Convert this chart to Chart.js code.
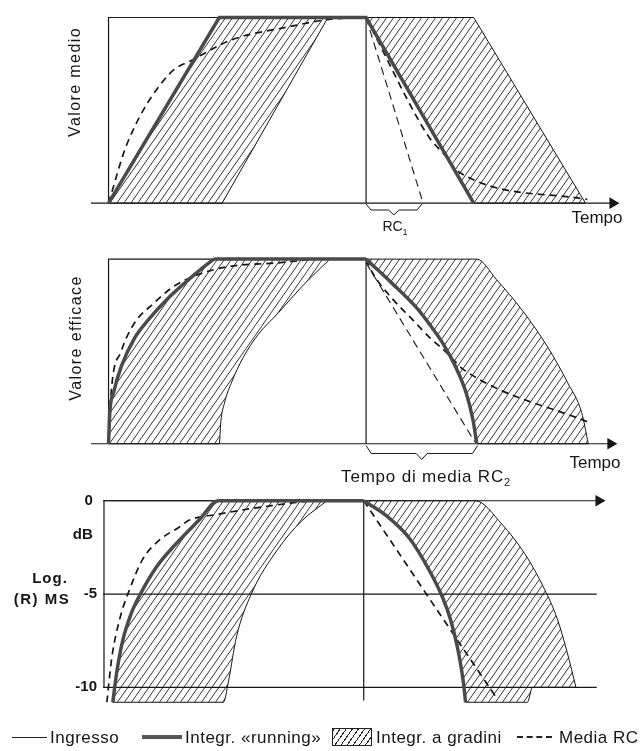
<!DOCTYPE html>
<html>
<head>
<meta charset="utf-8">
<script src="https://cdn.jsdelivr.net/npm/chart.js@4.4.1/dist/chart.umd.min.js"></script>
<style>
html, body { margin: 0; padding: 0; background: #fff; }
body { width: 644px; height: 751px; position: relative; overflow: hidden;
       font-family: "Liberation Sans", Arial, sans-serif; color: #161616; }
canvas { position: absolute; left: 0; top: 0; }
.t { position: absolute; white-space: nowrap; line-height: 1; transform: translate(-50%, -50%); }
.v { transform: translate(-50%, -50%) rotate(-90deg); font-size: 16px; letter-spacing: 1.4px; }
.l { position: absolute; white-space: nowrap; line-height: 1; transform: translateY(-50%);
     font-size: 17px; letter-spacing: 0.5px; top: 737px; }
.b { font-weight: bold; font-size: 15px; }
</style>
</head>
<body>
<canvas id="grafico1" width="644" height="751"></canvas>
<canvas id="grafico2" width="644" height="751"></canvas>
<canvas id="grafico3" width="644" height="751"></canvas>

<div class="t v" style="left:75px; top:82px;">Valore medio</div>
<div class="t v" style="left:76px; top:338px;">Valore efficace</div>
<div class="t" style="left:597px; top:217px; font-size:17px;">Tempo</div>
<div class="t" style="left:395px; top:228px; font-size:14px;">RC<sub style="font-size:9px">1</sub></div>
<div class="t" style="left:595px; top:462px; font-size:17px;">Tempo</div>
<div class="t" style="left:426px; top:478px; font-size:17px; letter-spacing:0.8px;">Tempo di media RC<sub style="font-size:11px">2</sub></div>
<div class="t b" style="left:50px; top:577px; letter-spacing:1px;">Log.</div>
<div class="t b" style="left:42px; top:598px; letter-spacing:1.5px;">(R) MS</div>

<div style="position:absolute; left:12px; top:737px; width:35px; height:1px; background:#222;"></div>
<div class="l" style="left:50px;">Ingresso</div>
<div style="position:absolute; left:142px; top:735px; width:40px; height:4px; background:#555;"></div>
<div class="l" style="left:185px;">Integr. «running»</div>
<div style="position:absolute; left:332px; top:728px; width:38px; height:16px; border:1px solid #222;
  background: repeating-linear-gradient(-55deg, #fff 0 4px, #222 4px 5px);"></div>
<div class="l" style="left:376px;">Integr. a gradini</div>
<div style="position:absolute; left:517px; top:736px; width:35px; height:0; border-top:2px dashed #222;"></div>
<div class="l" style="left:559px;">Media RC</div>

<script>
// tempo in unita' (0 = inizio impulso, 10 = fine impulso), valori normalizzati o dB

// Valore medio
var p1Ingresso = [[0, 0], [0, 1], [10, 1], [10, 0]];
var p1Asse = [[-0.68, 0], [19.58, 0]];
var p1Running = [[0, 0], [4.30, 1], [10, 1], [14.18, 0]];
var p1GradSxSopra = [[0, 0], [4.30, 1], [8.52, 1]];
var p1GradSxSotto = [[0, 0], [4.41, 0], [8.52, 1]];
var p1GradDxSopra = [[10, 1], [14.18, 1], [18.52, 0]];
var p1GradDxSotto = [[10, 1], [14.18, 0], [18.52, 0]];
var p1Tangente = [[10, 1], [12.17, 0.02]];
var p1RcSale = [[0, 0], [0.72, 0.32], [2.32, 0.69], [3.38, 0.78], [4.79, 0.88], [7.0, 0.95], [8.56, 0.99], [10, 1]];
var p1RcScende = [[10, 1], [10.76, 0.79], [11.71, 0.53], [12.47, 0.35], [13.12, 0.25], [13.57, 0.17], [18.59, 0.02]];
var p1Graffa = [[10, -0.005], [10.19, -0.037], [10.87, -0.037], [11.08, -0.063], [11.29, -0.037], [11.98, -0.037], [12.17, -0.005]];

// Valore efficace
var p2Ingresso = [[0, 0], [0, 1], [10, 1], [10, 0]];
var p2Asse = [[-0.68, 0], [19.5, 0]];
var p2RunSale = [[0, 0], [0.05, 0.17], [0.2, 0.28], [0.5, 0.42], [1.0, 0.57], [1.6, 0.68], [2.4, 0.80], [3.2, 0.90], [3.9, 0.98], [4.14, 1], [10, 1]];
var p2RunScende = [[10, 1], [11, 0.87], [12, 0.73], [12.5, 0.64], [13, 0.54], [13.5, 0.41], [13.9, 0.27], [14.15, 0.13], [14.3, 0]];
var p2GradSxSopra = [[0, 0], [0.05, 0.17], [0.2, 0.28], [0.5, 0.42], [1.0, 0.57], [1.6, 0.68], [2.4, 0.80], [3.2, 0.90], [3.9, 0.98], [4.14, 1], [8.59, 1]];
var p2GradSxSotto = [[0, 0], [4.30, 0], [4.36, 0.12], [4.5, 0.22], [4.8, 0.34], [5.2, 0.46], [5.8, 0.59], [6.6, 0.71], [7.5, 0.85], [8.59, 1]];
var p2GradDxSopra = [[10, 1], [14.30, 1], [15.06, 0.89], [16.08, 0.72], [17.07, 0.52], [17.83, 0.33], [18.37, 0.17], [18.63, 0]];
var p2GradDxSotto = [[10, 1], [11, 0.87], [12, 0.73], [12.5, 0.64], [13, 0.54], [13.5, 0.41], [13.9, 0.27], [14.15, 0.13], [14.3, 0], [18.63, 0]];
var p2Tangente = [[10, 0.98], [14.22, 0.01]];
var p2RcSale = [[0, 0], [0.11, 0.29], [0.49, 0.50], [0.99, 0.65], [1.75, 0.76], [2.62, 0.86], [4.30, 0.95], [6.58, 0.98], [8.33, 1], [10, 1]];
var p2RcScende = [[10, 1], [10.23, 0.93], [10.99, 0.79], [11.75, 0.68], [12.51, 0.57], [13.16, 0.49], [13.42, 0.45], [13.80, 0.40], [18.75, 0.11]];
var p2Graffa = [[10, -0.01], [10.2, -0.053], [11.95, -0.053], [12.16, -0.085], [12.37, -0.053], [14.13, -0.053], [14.33, -0.01]];

// Log. (R)MS in dB
var dbTickValori = [0, -1.84, -5, -10];
var dbTickEtichette = ['0 ', 'dB ', '-5', '-10'];
var p3Asse = [[-0.04, 0], [19.05, 0]];
var p3Riga5 = [[-0.04, -5], [18.97, -5]];
var p3Riga10 = [[-0.04, -10], [18.97, -10]];
var p3Ingresso = [[0, -10], [0, 0], [10, 0], [10, -10.7]];
var p3RunSale = [[0.34, -10.8], [0.49, -9.2], [0.72, -7.5], [1.06, -6.0], [1.40, -5.0], [2.02, -3.55], [2.78, -2.3], [3.65, -1.05], [4.41, 0], [10, 0]];
var p3RunScende = [[10, 0], [10.87, -0.8], [11.75, -2.0], [12.51, -3.7], [13.04, -5.2], [13.35, -6.4], [13.60, -7.8], [13.76, -9.0], [13.86, -10.0], [13.92, -10.8]];
var p3GradSxSopra = [[0.34, -10.8], [0.49, -9.2], [0.72, -7.5], [1.06, -6.0], [1.40, -5.0], [2.02, -3.55], [2.78, -2.3], [3.65, -1.05], [4.41, 0], [8.59, 0]];
var p3GradSxSotto = [[0.34, -10.8], [4.60, -10.8], [4.79, -9.7], [5.10, -7.3], [5.67, -5.0], [6.69, -2.6], [7.6, -1.1], [8.59, 0]];
var p3GradDxSopra = [[10, 0], [14.30, 0], [15.32, -1.26], [16.20, -2.84], [16.96, -4.74], [17.45, -6.32], [17.83, -8.11], [18.17, -10.0]];
var p3GradDxSotto = [[10, 0], [10.87, -0.8], [11.75, -2.0], [12.51, -3.7], [13.04, -5.2], [13.35, -6.4], [13.60, -7.8], [13.76, -9.0], [13.86, -10.0], [13.92, -10.8], [16.3, -10.8], [16.5, -10.0], [18.17, -10.0]];
var p3RcSale = [[0.11, -10.8], [0.30, -8.42], [0.61, -6.32], [0.99, -4.74], [1.48, -3.16], [2.13, -2.11], [2.89, -1.42], [3.27, -1.05], [4.33, -0.74], [5.93, -0.37], [8.40, 0], [10, 0]];
var p3RcScende = [[10, 0], [12.0, -4.15], [13.5, -7.25], [15.13, -10.6]];

Chart.defaults.font.family = '"Liberation Sans", Arial, sans-serif';

function tratteggio(idDaDiv) {
    var c = document.createElement('canvas');
    c.width = 7;
    c.height = 10;
    var x = c.getContext('2d');
    x.strokeStyle = '#1e1e1e';
    x.lineWidth = 0.9;
    for (var k = -1; k <= 1; k++) {
        x.beginPath();
        x.moveTo(k * 7, 10);
        x.lineTo(k * 7 + 7, 0);
        x.stroke();
    }
    return document.getElementById(idDaDiv).getContext('2d').createPattern(c, 'repeat');
}

function serie(punti, extra) {
    return Object.assign({
        data: punti.map(function (p) { return {x: p[0], y: p[1]}; }),
        borderColor: '#161616',
        borderWidth: 1.2,
        pointRadius: 0,
        fill: false,
        tension: 0
    }, extra || {});
}

var stileRunning = {borderColor: '#4a4a4a', borderWidth: 3.5, cubicInterpolationMode: 'monotone'};
var stileRc = {borderWidth: 1.7, borderDash: [7, 5], cubicInterpolationMode: 'monotone'};
var stileTangente = {borderWidth: 1.1, borderDash: [8, 5]};
var freccia = {pointRadius: [0, 5.5], pointStyle: 'triangle', pointRotation: 90,
               pointBackgroundColor: '#161616', pointBorderColor: '#161616'};

function area(sopra, sotto, patt, curva) {
    var o = {backgroundColor: patt, fill: '+1', borderWidth: 1};
    if (curva) o.cubicInterpolationMode = 'monotone';
    var o2 = {borderWidth: 1};
    if (curva) o2.cubicInterpolationMode = 'monotone';
    return [serie(sopra, o), serie(sotto, o2)];
}

function criarGrafico(idDaDiv, datasets, scales) {
    var ctx = document.getElementById(idDaDiv).getContext('2d');
    return new Chart(ctx, {
        type: 'line',
        data: {datasets: datasets},
        options: {
            responsive: false,
            animation: false,
            devicePixelRatio: 1,
            events: [],
            layout: {padding: 0},
            plugins: {legend: {display: false}, tooltip: {enabled: false}},
            scales: scales
        }
    });
}

var scalaX = {type: 'linear', display: false, min: -104 / 26.3, max: 540 / 26.3};

// pannello 1
var patt1 = tratteggio('grafico1');
criarGrafico('grafico1', [
    serie(p1Running, {borderColor: '#4a4a4a', borderWidth: 3.5}),
    serie(p1RcSale, stileRc),
    serie(p1RcScende, stileRc),
    serie(p1Tangente, stileTangente),
    serie(p1Ingresso),
    serie(p1Asse, freccia),
    serie(p1Graffa, {borderWidth: 1})
].concat(area(p1GradSxSopra, p1GradSxSotto, patt1, false))
 .concat(area(p1GradDxSopra, p1GradDxSotto, patt1, false)), {
    x: scalaX,
    y: {display: false, min: (200 - 751) / 189, max: 200 / 189}
});

// pannello 2
var patt2 = tratteggio('grafico2');
criarGrafico('grafico2', [
    serie(p2RunSale, stileRunning),
    serie(p2RunScende, stileRunning),
    serie(p2RcSale, stileRc),
    serie(p2RcScende, stileRc),
    serie(p2Tangente, stileTangente),
    serie(p2Ingresso),
    serie(p2Asse, freccia),
    serie(p2Graffa, {borderWidth: 1})
].concat(area(p2GradSxSopra, p2GradSxSotto, patt2, true))
 .concat(area(p2GradDxSopra, p2GradDxSotto, patt2, true)), {
    x: scalaX,
    y: {display: false, min: (445 - 751) / 188, max: 445 / 188}
});

// pannello 3
var patt3 = tratteggio('grafico3');
criarGrafico('grafico3', [
    serie(p3RunSale, stileRunning),
    serie(p3RunScende, stileRunning),
    serie(p3RcSale, stileRc),
    serie(p3RcScende, {borderWidth: 1.7, borderDash: [7, 5]}),
    serie(p3Ingresso),
    serie(p3Asse, freccia),
    serie(p3Riga5),
    serie(p3Riga10)
].concat(area(p3GradSxSopra, p3GradSxSotto, patt3, true))
 .concat(area(p3GradDxSopra, p3GradDxSotto, patt3, true)), {
    x: {type: 'linear', display: false, min: -1 / 26.3, max: -1 / 26.3 + 541 / 26.3},
    y: {
        display: true,
        position: 'left',
        min: (503 - 751) / 19,
        max: 503 / 19,
        grid: {display: false, drawTicks: false},
        border: {display: false},
        ticks: {
            autoSkip: false,
            padding: 6,
            color: '#161616',
            font: {size: 15, weight: 'bold'},
            callback: function (v, i) { return dbTickEtichette[i]; }
        },
        afterBuildTicks: function (asse) {
            asse.ticks = dbTickValori.map(function (v) { return {value: v}; });
        },
        afterFit: function (asse) {
            asse.width = 103;
            asse.paddingTop = 0;
            asse.paddingBottom = 0;
        }
    }
});
</script>
</body>
</html>
